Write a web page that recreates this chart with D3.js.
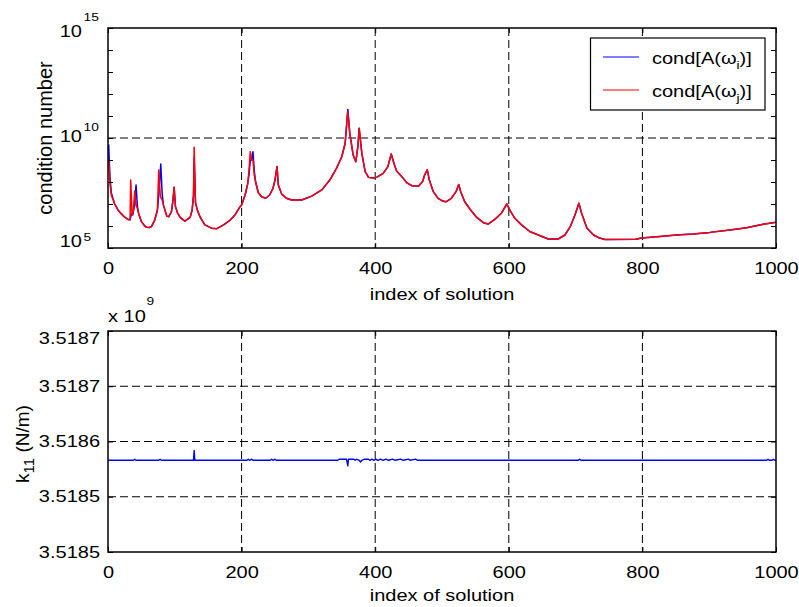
<!DOCTYPE html>
<html>
<head>
<meta charset="utf-8">
<script src="https://cdn.jsdelivr.net/npm/d3@7"></script>
<style>
  html, body { margin: 0; padding: 0; background: #fff; }
  svg { display: block; font-family: "Liberation Sans", Arial, Helvetica, sans-serif; }
</style>
</head>
<body>
<svg id="chart" width="799" height="607"></svg>
<script>
// ---- data -------------------------------------------------------------
// condition number of A(omega_i): [index of solution, log10(cond)]
const condI = [
  [1,9.7],[3,8.2],[5,7.5],[10,7.0],[15,6.73],[20,6.55],[25,6.4],[30,6.3],[33,6.28],[35,6.55],
  [37,6.5],[40,7.0],[42,7.86],[44,6.9],[46,6.55],[50,6.2],[55,6.0],[58,5.94],[62,5.93],[65,5.97],
  [70,6.27],[74,6.73],[76,7.4],[79,8.82],[81,7.5],[83,6.95],[88,6.45],[91,6.42],[95,6.65],[97,7.1],
  [99,7.76],[101,6.88],[104,6.6],[108,6.39],[115,6.22],[123,6.39],[126,6.73],[128,7.4],[129,9.1],[131,7.05],
  [134,6.7],[138,6.4],[145,6.05],[155,5.9],[163,5.88],[173,6.05],[183,6.27],[190,6.5],[197,6.85],[200,6.95],
  [203,7.2],[206,7.5],[209,7.9],[211,8.3],[213,9.0],[215,9.0],[217,9.38],[219,8.5],[221,8.0],[225,7.51],
  [230,7.33],[236,7.26],[242,7.41],[247,7.71],[250,8.09],[253,8.7],[255,7.86],[260,7.45],[267,7.26],[275,7.18],
  [290,7.18],[305,7.36],[320,7.64],[332,8.09],[342,8.62],[350,9.15],[355,9.76],[359,11.3],[362,10.2],[367,9.23],
  [371,8.92],[374,9.6],[376,10.44],[380,9.3],[385,8.47],[390,8.21],[397,8.18],[402,8.21],[412,8.39],[419,8.7],
  [424,9.27],[428,8.85],[432,8.5],[440,8.24],[447,7.97],[455,7.83],[465,7.82],[471,8.02],[474,8.32],[478,8.55],
  [481,8.09],[487,7.56],[494,7.26],[500,7.15],[506,7.1],[514,7.26],[521,7.56],[525,7.89],[528,7.56],[534,7.1],
  [542,6.76],[552,6.39],[562,6.15],[569,6.09],[579,6.3],[589,6.58],[597,7.0],[602,6.7],[609,6.35],[619,6.05],
  [632,5.74],[647,5.56],[659,5.41],[674,5.41],[684,5.59],[692,5.97],[699,6.5],[705,7.03],[709,6.58],[717,5.9],
  [727,5.59],[736,5.45],[744,5.39],[790,5.4],[799,5.45],[826,5.52],[851,5.59],[876,5.64],[901,5.71],[931,5.82],
  [956,5.92],[981,6.08],[1000,6.17]
];

// condition number of A(omega_j): [index of solution, log10(cond)]
const condJ = [
  [1,9.05],[3,7.9],[5,7.4],[10,7.0],[15,6.73],[20,6.55],[25,6.4],[30,6.3],[33,6.28],[34,8.09],
  [36,6.5],[38,6.7],[40,7.6],[42,6.95],[44,6.8],[46,6.55],[50,6.2],[55,6.0],[58,5.94],[62,5.93],[65,5.97],
  [70,6.27],[74,6.73],[76,8.55],[78,7.5],[79,7.3],[81,7.2],[83,6.95],[88,6.45],[91,6.42],[95,6.65],[97,7.1],
  [99,7.76],[101,6.88],[104,6.6],[108,6.39],[115,6.22],[123,6.39],[126,6.73],[128,7.4],[129,9.58],[131,7.05],
  [134,6.7],[138,6.4],[145,6.05],[155,5.9],[163,5.88],[173,6.05],[183,6.27],[190,6.5],[197,6.85],[200,6.95],
  [203,7.2],[206,7.5],[209,7.9],[211,8.5],[213,9.38],[215,9.0],[217,9.0],[219,8.3],[221,8.0],[225,7.51],
  [230,7.33],[236,7.26],[242,7.41],[247,7.71],[250,8.09],[253,8.7],[255,7.86],[260,7.45],[267,7.26],[275,7.18],
  [290,7.18],[305,7.36],[320,7.64],[332,8.09],[342,8.62],[350,9.15],[355,9.76],[359,11.2],[362,10.2],[367,9.23],
  [371,8.92],[374,9.6],[376,10.44],[380,9.3],[385,8.47],[390,8.21],[397,8.18],[402,8.21],[412,8.39],[419,8.7],
  [424,9.27],[428,8.85],[432,8.5],[440,8.24],[447,7.97],[455,7.83],[465,7.82],[471,8.02],[474,8.32],[478,8.55],
  [481,8.09],[487,7.56],[494,7.26],[500,7.15],[506,7.1],[514,7.26],[521,7.56],[525,7.89],[528,7.56],[534,7.1],
  [542,6.76],[552,6.39],[562,6.15],[569,6.09],[579,6.3],[589,6.58],[597,7.0],[602,6.7],[609,6.35],[619,6.05],
  [632,5.74],[647,5.56],[659,5.41],[674,5.41],[684,5.59],[692,5.97],[699,6.5],[705,7.03],[709,6.58],[717,5.9],
  [727,5.59],[736,5.45],[744,5.39],[790,5.4],[799,5.45],[826,5.52],[851,5.59],[876,5.64],[901,5.71],[931,5.82],
  [956,5.92],[981,6.08],[1000,6.17]
];

// identified stiffness k11, in units of 1e9 N/m: [index of solution, value]
const k11 = [
  [0,3.518583],[38,3.518583],[40,3.518584],[42,3.518583],[76,3.518583],[78,3.518584],[80,3.518583],
  [128,3.518583],[129,3.518592],[130,3.518583],[208,3.518583],[210,3.518584],[212,3.518583],[215,3.518584],
  [217,3.518583],[243,3.518583],[245,3.518584],[247,3.518583],[250,3.518584],[252,3.518583],[344,3.518583],
  [346,3.518584],[357,3.518584],[359,3.518578],[360,3.518584],[368,3.518584],[370,3.518583],[372,3.518584],
  [376,3.518583],[378,3.5185815],[380,3.518583],[384,3.518584],[390,3.518584],[392,3.518583],[395,3.518584],
  [398,3.518583],[401,3.518584],[404,3.518583],[408,3.518584],[412,3.518583],[416,3.518584],[420,3.518583],
  [426,3.518584],[430,3.518583],[438,3.518584],[442,3.518583],[450,3.518584],[452,3.518583],[461,3.518584],
  [463,3.518583],[704,3.518583],[706,3.518584],[708,3.518583],[986,3.518583],[988,3.518584],[990,3.518583],
  [994,3.518583],[996,3.518584],[998,3.518583],[1000,3.518583]
];

const indexTicks = [0, 200, 400, 600, 800, 1000];
const condDecades = [5, 6, 7, 8, 9, 10, 11, 12, 13, 14, 15];
const condLabelDecades = [5, 10, 15];
const k11Ticks = [3.5185, 3.51855, 3.5186, 3.51865, 3.5187];
const k11TickLabels = ["3.5185", "3.5185", "3.5186", "3.5187", "3.5187"];
const legendSubscripts = ["i", "j"];
const seriesColors = ["#0000ff", "#ff0000"];

// ---- layout -----------------------------------------------------------
const svg = d3.select("#chart");
const left = 108, right = 776;
const top1 = 28, bottom1 = 248;
const top2 = 331, bottom2 = 552;
const SX = 1.25;           // horizontal glyph stretch of the text
const FS = 16;             // base font size

const x = d3.scaleLinear().domain([0, 1000]).range([left, right]);
const y1 = d3.scaleLog().domain([1e5, 1e15]).range([bottom1, top1]);
const y2 = d3.scaleLinear().domain([3.5185, 3.5187]).range([bottom2, top2]);

function styleAxis(g) {
  g.attr("font-family", null).attr("font-size", null).attr("color", "#000");
  g.select(".domain").remove();
  g.selectAll(".tick line").attr("stroke-width", 1);
}

function drawPanel(yScale, yTop, yBottom, yGridValues) {
  const panel = svg.append("g");
  // dashed grid
  const grid = panel.append("g").attr("stroke", "#000").attr("stroke-width", 1)
    .attr("stroke-dasharray", "8,4");
  grid.selectAll("line.vx").data(indexTicks.slice(1, -1)).join("line")
    .attr("x1", d => x(d)).attr("x2", d => x(d)).attr("y1", yTop).attr("y2", yBottom);
  grid.selectAll("line.hy").data(yGridValues).join("line")
    .attr("x1", left).attr("x2", right).attr("y1", d => yScale(d)).attr("y2", d => yScale(d));
  return panel;
}

function drawFrame(panel, yScale, yTop, yBottom, yTickValues) {
  // bottom axis with labels
  const gb = panel.append("g").attr("transform", `translate(0,${yBottom})`)
    .call(d3.axisBottom(x).tickValues(indexTicks).tickSize(-5).tickSizeOuter(0)
      .tickPadding(14.5).tickFormat(d3.format("d")));
  styleAxis(gb);
  gb.selectAll(".tick text").attr("font-size", FS).attr("fill", "#000")
    .attr("transform", `scale(${SX},1)`);
  // top axis, ticks only
  const gt = panel.append("g").attr("transform", `translate(0,${yTop})`)
    .call(d3.axisTop(x).tickValues(indexTicks).tickSize(-5).tickSizeOuter(0).tickFormat(""));
  styleAxis(gt);
  // right axis, ticks only
  const gr = panel.append("g").attr("transform", `translate(${right},0)`)
    .call(d3.axisRight(yScale).tickValues(yTickValues).tickSize(-5).tickSizeOuter(0).tickFormat(""));
  styleAxis(gr);
  // box
  panel.append("rect").attr("x", left).attr("y", yTop)
    .attr("width", right - left).attr("height", yBottom - yTop)
    .attr("fill", "none").attr("stroke", "#000").attr("stroke-width", 1.5);
}

// ---- top panel: condition numbers --------------------------------------
const p1 = drawPanel(y1, top1, bottom1, [1e10]);
const condLine = d3.line().x(d => x(d[0])).y(d => y1(Math.pow(10, d[1])));
[condI, condJ].forEach((series, i) => {
  p1.append("path").datum(series).attr("d", condLine)
    .attr("fill", "none").attr("stroke", seriesColors[i]).attr("stroke-width", 1.5)
    .attr("stroke-linejoin", "round");
});
drawFrame(p1, y1, top1, bottom1, condDecades.map(e => Math.pow(10, e)));

const gl1 = p1.append("g").attr("transform", `translate(${left},0)`)
  .call(d3.axisLeft(y1).tickValues(condDecades.map(e => Math.pow(10, e)))
    .tickSize(-5).tickSizeOuter(0).tickFormat(""));
styleAxis(gl1);

// power-of-ten labels
condLabelDecades.forEach(e => {
  const ty = y1(Math.pow(10, e));
  const base = ty + 9 - (15 - e);
  p1.append("text").attr("transform", `translate(82,${base}) scale(${SX},1)`)
    .attr("text-anchor", "end").attr("font-size", FS).text("10");
  p1.append("text").attr("transform", `translate(83.5,${ty - 7}) scale(${SX},1)`)
    .attr("text-anchor", "start").attr("font-size", 11).text(String(e));
});

svg.append("text").attr("transform", "translate(52,138) rotate(-90)")
  .attr("text-anchor", "middle").attr("font-size", 20).text("condition number");
svg.append("text").attr("transform", `translate(${(left + right) / 2},300) scale(${SX},1)`)
  .attr("text-anchor", "middle").attr("font-size", FS).text("index of solution");

// legend
const lg = p1.append("g");
lg.append("rect").attr("x", 590.5).attr("y", 38).attr("width", 174.5).attr("height", 72)
  .attr("fill", "#fff").attr("stroke", "#000").attr("stroke-width", 1.2);
legendSubscripts.forEach((s, i) => {
  const ly = 57 + i * 33;
  lg.append("line").attr("x1", 603).attr("x2", 639).attr("y1", ly).attr("y2", ly)
    .attr("stroke", seriesColors[i]).attr("stroke-width", 1.2);
  const t = lg.append("text").attr("transform", `translate(652,${ly + 6.5}) scale(${SX},1)`)
    .attr("font-size", FS);
  t.append("tspan").text("cond[A(ω");
  t.append("tspan").attr("font-size", 11).attr("dy", 5).text(s);
  t.append("tspan").attr("dy", -5).text(")]");
});

// ---- bottom panel: k11 ------------------------------------------------
const p2 = drawPanel(y2, top2, bottom2, k11Ticks.slice(1, -1));
const kLine = d3.line().x(d => x(d[0])).y(d => y2(d[1]));
p2.append("path").datum(k11).attr("d", kLine)
  .attr("fill", "none").attr("stroke", seriesColors[0]).attr("stroke-width", 1.4)
  .attr("stroke-linejoin", "round");
drawFrame(p2, y2, top2, bottom2, k11Ticks);

const gl2 = p2.append("g").attr("transform", `translate(${left},0)`)
  .call(d3.axisLeft(y2).tickValues(k11Ticks).tickSize(-5).tickSizeOuter(0)
    .tickPadding(6.4).tickFormat((d, i) => k11TickLabels[i]));
styleAxis(gl2);
gl2.selectAll(".tick text").attr("font-size", FS).attr("fill", "#000")
  .attr("transform", `scale(${SX},1)`)
  .filter(d => d === k11Ticks[k11Ticks.length - 1]).attr("dy", "0.75em");

// exponent note above the axis
const ex = svg.append("text").attr("transform", `translate(${left},322) scale(${SX},1)`)
  .attr("font-size", FS);
ex.append("tspan").text("x 10");
svg.append("text").attr("transform", `translate(146.5,305) scale(${SX},1)`)
  .attr("font-size", 11).text("9");

const kl = svg.append("text").attr("transform", "translate(29,444) rotate(-90)")
  .attr("text-anchor", "middle").attr("font-size", 19);
kl.append("tspan").text("k");
kl.append("tspan").attr("font-size", 15).attr("dy", 5).text("11");
kl.append("tspan").attr("dy", -5).text(" (N/m)");

svg.append("text").attr("transform", `translate(${(left + right) / 2},601) scale(${SX},1)`)
  .attr("text-anchor", "middle").attr("font-size", FS).text("index of solution");
</script>
</body>
</html>
